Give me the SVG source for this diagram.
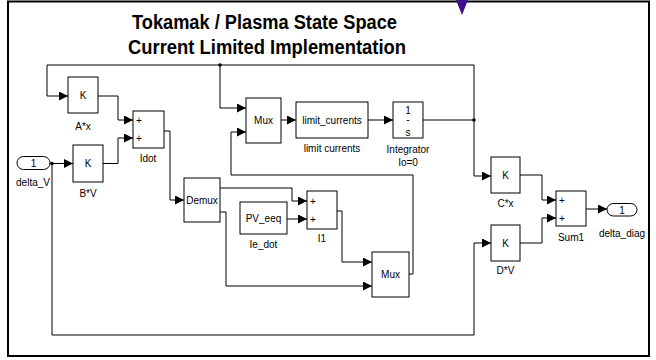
<svg xmlns="http://www.w3.org/2000/svg" width="656" height="360" viewBox="0 0 656 360">
<defs>
<marker id="ah" markerUnits="userSpaceOnUse" markerWidth="10" markerHeight="10" refX="9" refY="4.5" orient="auto">
<path d="M0,0 L9,4.5 L0,9 z" fill="#000"/>
</marker>
<style>
.blk{fill:#fff;stroke:#000;stroke-width:1}
.w{fill:none;stroke:#000;stroke-width:1;marker-end:url(#ah)}
.wn{fill:none;stroke:#000;stroke-width:1}
text{font-family:"Liberation Sans",Arial,sans-serif;font-size:10px;fill:#000}
.c{text-anchor:middle}
.t{font-size:20px;font-weight:bold;text-anchor:start}
</style>
</defs>
<rect width="656" height="360" fill="#fff"/>
<rect x="8" y="1.5" width="641" height="354.5" fill="none" stroke="#000" stroke-width="2"/>
<polygon points="456,0 468,0 462,15" fill="#3d0f8f"/>
<g id="title">
<text class="t" x="132" y="29" textLength="265" lengthAdjust="spacingAndGlyphs">Tokamak / Plasma State Space</text>
<text class="t" x="128" y="54" textLength="278" lengthAdjust="spacingAndGlyphs">Current Limited Implementation</text>
</g>
<g id="connectors">
<path class="wn" d="M423,120 H474"/>
<path class="w" d="M474,120 V65 H47 V96 H68"/>
<path class="w" d="M220,65 V108 H246"/>
<path class="w" d="M474,120 V176 H491"/>
<path class="w" d="M98,96 H118 V120 H133"/>
<path class="w" d="M103,163.5 H118 V138 H133"/>
<path class="w" d="M50,163.5 H73"/>
<path class="w" d="M52,163.5 V335 H474 V243 H491"/>
<path class="w" d="M164,131 H170 V200 H184"/>
<path class="w" d="M220,188 H292 V201 H307"/>
<path class="w" d="M220,212 H226 V286 H372"/>
<path class="w" d="M287,219 H307"/>
<path class="w" d="M337,211 H342 V262 H372"/>
<path class="w" d="M409,274 H413 V175 H231 V132 H246"/>
<path class="w" d="M281,120 H296"/>
<path class="w" d="M368,120 H393"/>
<path class="w" d="M520,175 H542 V200 H556"/>
<path class="w" d="M520,243 H542 V218 H556"/>
<path class="w" d="M586,209 H607"/>
<circle cx="220" cy="65" r="1.8"/>
<circle cx="474" cy="120" r="1.8"/>
<circle cx="52" cy="163.5" r="1.8"/>
</g>
<g id="Ax">
<rect class="blk" x="68" y="77" width="30" height="36"/>
<text class="c" x="83" y="99">K</text>
<text class="c" x="83" y="130">A*x</text>
</g>
<g id="Idot">
<rect class="blk" x="133" y="111" width="31" height="37"/>
<text x="136" y="123.5">+</text>
<text x="136" y="141.5">+</text>
<text class="c" x="148" y="162">Idot</text>
</g>
<g id="delta_V">
<rect class="blk" x="17" y="156.5" width="33" height="13" rx="6.5"/>
<text class="c" x="33.5" y="167">1</text>
<text class="c" x="33" y="186">delta_V</text>
</g>
<g id="BV">
<rect class="blk" x="73" y="145" width="30" height="37"/>
<text class="c" x="88" y="167">K</text>
<text class="c" x="88" y="197">B*V</text>
</g>
<g id="Demux">
<rect class="blk" x="184" y="178" width="36" height="44"/>
<text class="c" x="202" y="203.5">Demux</text>
</g>
<g id="PV_eeq">
<rect class="blk" x="240" y="202" width="47" height="32"/>
<text class="c" x="263.5" y="221.5">PV_eeq</text>
<text class="c" x="263.5" y="248">Ie_dot</text>
</g>
<g id="I1">
<rect class="blk" x="307" y="191" width="30" height="38"/>
<text x="310" y="204.5">+</text>
<text x="310" y="222.5">+</text>
<text class="c" x="322" y="242">I1</text>
</g>
<g id="Mux2">
<rect class="blk" x="372" y="252" width="37" height="45"/>
<text class="c" x="390.5" y="278">Mux</text>
</g>
<g id="Mux1">
<rect class="blk" x="246" y="98" width="35" height="45"/>
<text class="c" x="263.5" y="124">Mux</text>
</g>
<g id="limit_currents">
<rect class="blk" x="296" y="102" width="72" height="36"/>
<text class="c" x="332" y="123.5">limit_currents</text>
<text class="c" x="332" y="152">limit currents</text>
</g>
<g id="Integrator">
<rect class="blk" x="393" y="102" width="30" height="36"/>
<text class="c" x="408" y="113.5">1</text>
<text class="c" x="408" y="123">-</text>
<text class="c" x="408" y="135.5">s</text>
<text class="c" x="408" y="153">Integrator</text>
<text class="c" x="408" y="166">Io=0</text>
</g>
<g id="Cx">
<rect class="blk" x="491" y="157" width="29" height="36"/>
<text class="c" x="505.5" y="178.5">K</text>
<text class="c" x="505.5" y="207">C*x</text>
</g>
<g id="DV">
<rect class="blk" x="491" y="225" width="29" height="36"/>
<text class="c" x="505.5" y="246.5">K</text>
<text class="c" x="505.5" y="274">D*V</text>
</g>
<g id="Sum1">
<rect class="blk" x="556" y="191" width="30" height="35"/>
<text x="559" y="203.5">+</text>
<text x="559" y="221.5">+</text>
<text class="c" x="571" y="241">Sum1</text>
</g>
<g id="delta_diag">
<rect class="blk" x="607" y="203.5" width="30" height="12.5" rx="6.25"/>
<text class="c" x="622" y="213.5">1</text>
<text class="c" x="622" y="237">delta_diag</text>
</g>
</svg>
